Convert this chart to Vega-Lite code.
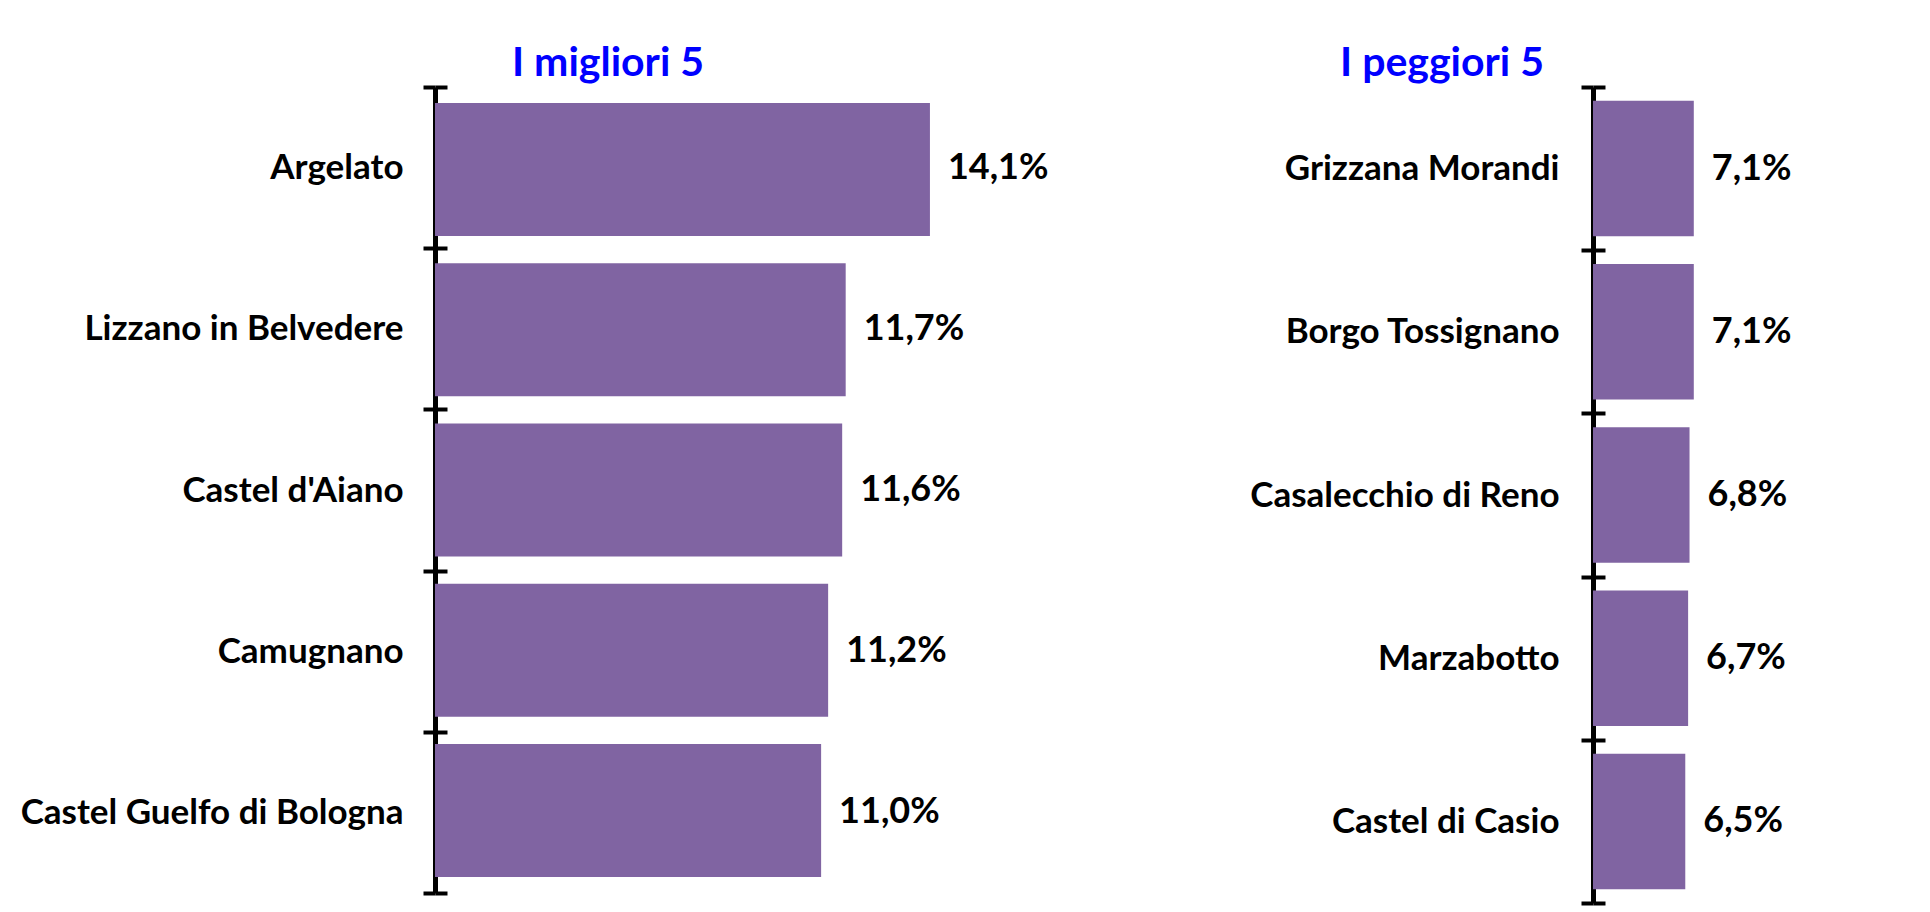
{
  "$schema": "https://vega.github.io/schema/vega-lite/v6.json",
  "background": "white",
  "padding": {"left": 20, "top": 43, "right": 5, "bottom": 5},
  "spacing": 20,
  "config": {
    "view": {"stroke": null},
    "font": "Lato",
    "locale": {"number": {"decimal": ",", "thousands": ".", "grouping": [3], "currency": ["€", ""]}},
    "title": {"font": "Lato", "fontSize": 41, "fontWeight": "bold", "color": "#0000FF", "anchor": "middle", "frame": "group", "offset": -15}
  },
  "datasets": {
    "migliori": [
      {"comune": "Argelato", "valore": 0.141},
      {"comune": "Lizzano in Belvedere", "valore": 0.117},
      {"comune": "Castel d'Aiano", "valore": 0.116},
      {"comune": "Camugnano", "valore": 0.112},
      {"comune": "Castel Guelfo di Bologna", "valore": 0.110}
    ],
    "peggiori": [
      {"comune": "Grizzana Morandi", "valore": 0.071},
      {"comune": "Borgo Tossignano", "valore": 0.071},
      {"comune": "Casalecchio di Reno", "valore": 0.068},
      {"comune": "Marzabotto", "valore": 0.067},
      {"comune": "Castel di Casio", "valore": 0.065}
    ]
  },
  "hconcat": [
    {
      "title": {"text": "I migliori 5", "dx": -224},
      "width": 794,
      "height": 806,
      "data": {"name": "migliori"},
      "layer": [
        {
          "mark": {"type": "bar", "color": "#8064A2"},
          "encoding": {
            "y": {"field": "comune", "type": "nominal", "sort": null, "title": null,
                  "scale": {"paddingInner": 0.17, "paddingOuter": 0.1}, "axis": null},
            "x": {"field": "valore", "type": "quantitative", "axis": null, "scale": {"domain": [0, 0.2262], "nice": false}}
          }
        },
        {
          "mark": {"type": "text", "align": "left", "baseline": "middle", "dx": 18, "fontSize": 36, "fontWeight": "bold", "color": "black", "font": "Lato"},
          "encoding": {
            "y": {"field": "comune", "type": "nominal", "sort": null, "title": null,
                  "scale": {"paddingInner": 0, "paddingOuter": 0},
                  "axis": {"orient": "left", "domainColor": "black", "domainWidth": 5, "tickColor": "black", "tickWidth": 4, "tickSize": 12, "tickBand": "extent", "labelPadding": 20, "labelFont": "Lato", "labelFontSize": 35, "labelFontWeight": "bold", "labelColor": "black", "labelLimit": 600}},
            "x": {"field": "valore", "type": "quantitative"},
            "text": {"field": "valore", "type": "quantitative", "format": ".1%"}
          }
        },
        {
          "mark": {"type": "text"},
          "encoding": {
            "y": {"field": "comune", "type": "nominal", "sort": null, "title": null,
                  "scale": {"paddingInner": 0, "paddingOuter": 0},
                  "axis": {"orient": "left", "domain": false, "labels": false, "title": null, "tickColor": "black", "tickWidth": 4, "tickSize": -12, "tickBand": "extent"}}
          }
        }
      ],
      "resolve": {"scale": {"y": "independent"}, "axis": {"y": "independent"}}
    },
    {
      "title": {"text": "I peggiori 5", "dx": -299},
      "width": 296,
      "height": 816,
      "data": {"name": "peggiori"},
      "layer": [
        {
          "mark": {"type": "bar", "color": "#8064A2"},
          "encoding": {
            "y": {"field": "comune", "type": "nominal", "sort": null, "title": null,
                  "scale": {"paddingInner": 0.17, "paddingOuter": 0.085}, "axis": null},
            "x": {"field": "valore", "type": "quantitative", "axis": null, "scale": {"domain": [0, 0.2085], "nice": false}}
          }
        },
        {
          "mark": {"type": "text", "align": "left", "baseline": "middle", "dx": 18, "fontSize": 36, "fontWeight": "bold", "color": "black", "font": "Lato"},
          "encoding": {
            "y": {"field": "comune", "type": "nominal", "sort": null, "title": null,
                  "scale": {"paddingInner": 0, "paddingOuter": 0},
                  "axis": {"orient": "left", "domainColor": "black", "domainWidth": 5, "tickColor": "black", "tickWidth": 4, "tickSize": 12, "tickBand": "extent", "labelPadding": 22, "labelFont": "Lato", "labelFontSize": 35, "labelFontWeight": "bold", "labelColor": "black", "labelLimit": 600}},
            "x": {"field": "valore", "type": "quantitative"},
            "text": {"field": "valore", "type": "quantitative", "format": ".1%"}
          }
        },
        {
          "mark": {"type": "text"},
          "encoding": {
            "y": {"field": "comune", "type": "nominal", "sort": null, "title": null,
                  "scale": {"paddingInner": 0, "paddingOuter": 0},
                  "axis": {"orient": "left", "domain": false, "labels": false, "title": null, "tickColor": "black", "tickWidth": 4, "tickSize": -12, "tickBand": "extent"}}
          }
        }
      ],
      "resolve": {"scale": {"y": "independent"}, "axis": {"y": "independent"}}
    }
  ]
}
